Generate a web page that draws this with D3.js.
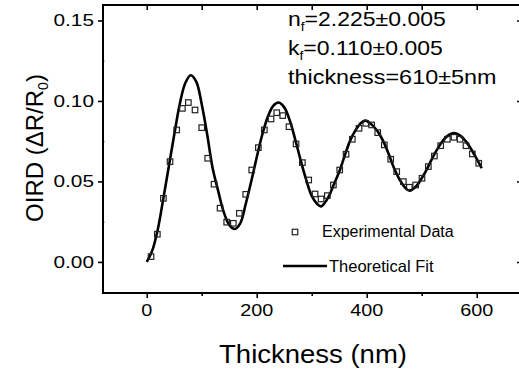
<!DOCTYPE html>
<html><head><meta charset="utf-8">
<script src="https://cdn.jsdelivr.net/npm/d3@7"></script>
<style>
html,body{margin:0;padding:0;background:#fff;}
svg{display:block;font-family:"Liberation Sans",Arial,Helvetica,sans-serif;}
</style></head>
<body>
<svg id="chart" width="519" height="370"></svg>
<script>
// ---- data ----
const dataThickness = [7.8,19.3,30.3,42.4,54.5,64.8,75.7,87.8,100,110.9,122.4,133.3,145.4,157.5,168.4,180,190.9,203,213.8,226,236.4,247.3,258.7,271.5,283,294.5,306,317,328.4,339.4,350.9,362.4,373.8,386,398.2,409,420,432,443.6,454.5,466.6,477.5,489,500.5,512,523,534.5,546.6,558.7,569.6,580.5,592,603.6];
const dataOIRD = [0.0033,0.0172,0.0395,0.0623,0.082,0.0954,0.099,0.0944,0.0834,0.0644,0.0483,0.0334,0.0247,0.024,0.0302,0.042,0.0571,0.071,0.082,0.0888,0.0927,0.0909,0.084,0.0733,0.0617,0.0509,0.0422,0.0391,0.0412,0.0478,0.0571,0.0669,0.0762,0.083,0.0861,0.0851,0.0803,0.0727,0.0638,0.0561,0.0499,0.0464,0.0478,0.052,0.0592,0.0658,0.0722,0.0762,0.0774,0.0762,0.0722,0.0671,0.0613];
const fitThickness = [0,10,20,30,40,50,60,70,80,90,100,110,120,130,140,150,160,170,180,190,200,210,220,230,240,250,260,270,280,290,300,310,317,330,340,350,360,370,380,390,398,410,420,430,440,450,460,470,478,490,500,510,520,530,540,550,559,570,580,590,600,609];
const fitOIRD = [0,0.007,0.020,0.039,0.059,0.079,0.098,0.111,0.116,0.112,0.098,0.079,0.058,0.044,0.031,0.023,0.0205,0.024,0.036,0.050,0.065,0.079,0.090,0.097,0.099,0.096,0.088,0.076,0.063,0.051,0.041,0.036,0.0345,0.040,0.048,0.056,0.066,0.0755,0.082,0.0865,0.0878,0.085,0.081,0.075,0.067,0.058,0.051,0.046,0.0443,0.047,0.052,0.058,0.065,0.071,0.076,0.079,0.080,0.0785,0.075,0.070,0.064,0.0582];
const xMajorTicks = [0,200,400,600];
const xMinorTicks = [100,300,500];
const yMajorTicks = [0,0.05,0.10,0.15];
const yMinorTicks = [0.025,0.075,0.125];
const legendLabels = ["Experimental Data","Theoretical Fit"];

// ---- layout ----
const L = 103, R = 521, T = 5, B = 293;
const svg = d3.select("#chart");
const x = d3.scaleLinear().domain([-79.5, 680.5]).range([L, R]);
const y = d3.scaleLinear().domain([-0.0193, 0.1596]).range([B, T]);

// axes
function styleAxis(g){ g.select(".domain").remove(); g.selectAll("line").attr("stroke","#000").attr("stroke-width",1.6); }
svg.append("g").attr("transform",`translate(0,${B})`)
  .call(d3.axisBottom(x).tickValues(xMajorTicks).tickSize(5).tickSizeOuter(0).tickFormat(""))
  .call(styleAxis);
svg.append("g").attr("transform",`translate(0,${B})`)
  .call(d3.axisBottom(x).tickValues(xMinorTicks).tickSize(3).tickFormat(""))
  .call(styleAxis);
svg.append("g").attr("transform",`translate(0,${T})`)
  .call(d3.axisBottom(x).tickValues(xMajorTicks.concat(xMinorTicks)).tickSize(5).tickFormat(""))
  .call(styleAxis);
svg.append("g").attr("transform",`translate(${L},0)`)
  .call(d3.axisLeft(y).tickValues(yMajorTicks).tickSize(5).tickFormat(""))
  .call(styleAxis);
svg.append("g").attr("transform",`translate(${L},0)`)
  .call(d3.axisRight(y).tickValues(yMinorTicks).tickSize(2).tickFormat(""))
  .call(styleAxis).call(g=>g.selectAll("line").attr("stroke","#999").attr("stroke-width",1));
svg.append("g").attr("transform",`translate(${R},0)`)
  .call(d3.axisLeft(y).tickValues(yMajorTicks).tickSize(4).tickFormat(""))
  .call(styleAxis);
svg.append("g").attr("transform",`translate(${R},0)`)
  .call(d3.axisLeft(y).tickValues(yMinorTicks).tickSize(2).tickFormat(""))
  .call(styleAxis).call(g=>g.selectAll("line").attr("stroke","#bbb").attr("stroke-width",1));

// tick labels (slightly wide font, as in the original)
svg.append("g").selectAll("text").data(xMajorTicks).join("text")
  .attr("transform",d=>`translate(${x(d)},316) scale(1.24,1)`)
  .attr("text-anchor","middle").attr("font-size",16).text(d=>d3.format("d")(d));
svg.append("g").selectAll("text").data(yMajorTicks).join("text")
  .attr("transform",d=>`translate(94,${y(d)+6}) scale(1.3,1)`)
  .attr("text-anchor","end").attr("font-size",16).text(d=>d3.format(".2f")(d));

// frame
svg.append("rect").attr("x",L).attr("y",T).attr("width",R-L).attr("height",B-T)
  .attr("fill","none").attr("stroke","#000").attr("stroke-width",2);

// fit line
const line = d3.line().x(d=>x(d[0])).y(d=>y(d[1])).curve(d3.curveCatmullRom.alpha(0.5));
svg.append("path").datum(fitThickness.map((t,i)=>[t,fitOIRD[i]]))
  .attr("d",line).attr("fill","none").attr("stroke","#000").attr("stroke-width",2.6);

// data squares
const sq = 5.5;
svg.append("g").selectAll("rect").data(dataThickness.map((t,i)=>[t,dataOIRD[i]])).join("rect")
  .attr("x",d=>x(d[0])-sq/2).attr("y",d=>y(d[1])-sq/2).attr("width",sq).attr("height",sq)
  .attr("fill","none").attr("stroke","#222").attr("stroke-width",1.2);

// axis titles
svg.append("text").attr("transform","translate(313,363) scale(1.1,1)")
  .attr("text-anchor","middle").attr("font-size",25).text("Thickness (nm)");
const yt = svg.append("text").attr("transform","translate(43,148) rotate(-90)")
  .attr("text-anchor","middle").attr("font-size",24);
yt.append("tspan").text("OIRD (ΔR/R");
yt.append("tspan").attr("font-size",14).attr("dy",5).text("0");
yt.append("tspan").attr("dy",-5).text(")");

// annotations
const ann = [["n","f","=2.225±0.005",26],["k","f","=0.110±0.005",55]];
ann.forEach(a=>{
  const t = svg.append("text").attr("transform",`translate(288,${a[3]}) scale(1.15,1)`).attr("font-size",20);
  t.append("tspan").text(a[0]);
  t.append("tspan").attr("font-size",12).attr("dy",5).text(a[1]);
  t.append("tspan").attr("dy",-5).text(a[2]);
});
svg.append("text").attr("transform","translate(288,84) scale(1.17,1)").attr("font-size",20).text("thickness=610±5nm");

// legend
svg.append("rect").attr("x",295-sq/2).attr("y",232-sq/2).attr("width",sq).attr("height",sq)
  .attr("fill","none").attr("stroke","#222").attr("stroke-width",1.2);
svg.append("text").attr("x",322).attr("y",237).attr("font-size",16).text(legendLabels[0]);
svg.append("line").attr("x1",283).attr("x2",327).attr("y1",266).attr("y2",266).attr("stroke","#000").attr("stroke-width",2.6);
svg.append("text").attr("x",329).attr("y",272).attr("font-size",16.5).text(legendLabels[1]);
</script>
</body></html>
